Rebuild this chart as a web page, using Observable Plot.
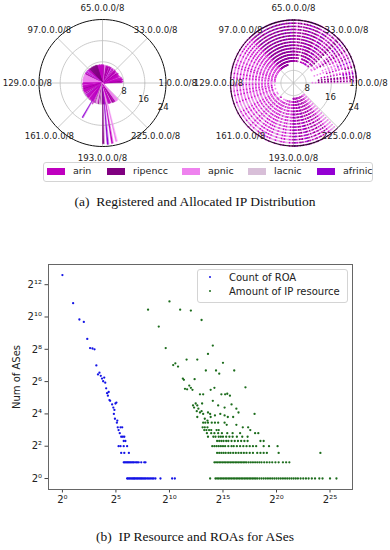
<!DOCTYPE html>
<html><head><meta charset="utf-8">
<script src="https://cdn.jsdelivr.net/npm/d3@7"></script>
<script src="https://cdn.jsdelivr.net/npm/@observablehq/plot@0.6"></script>
<style>
body{margin:0;background:#fff;}
#page{position:relative;width:390px;height:550px;overflow:hidden;font-family:"DejaVu Sans",sans-serif;background:#fff;}
#page svg{overflow:visible;}
.box{position:absolute;}
.cap{position:absolute;left:0;width:390px;text-align:center;font-family:"Liberation Serif",serif;font-size:13.5px;color:#111;white-space:pre;}
.lg{position:absolute;border:1px solid #d4d4d4;border-radius:3px;background:rgba(255,255,255,0.85);}
.lgt{position:absolute;font-size:9.5px;color:#222;line-height:10px;}
</style></head><body><div id="page"></div>
<script>
// ---------------- data: RIR registry ----------------
const rirNames = ["arin", "ripencc", "apnic", "lacnic", "afrinic"];
const rirColors = ["#bf00bf", "#800080", "#ee82ee", "#d8bfd8", "#9400d3"];
const rirCodeNames = {a: "arin", r: "ripencc", p: "apnic", l: "lacnic", f: "afrinic"};
// RIR registered for each /8 block (index = first octet); "." = none
const registeredRir =
  ".praaraa" + "aa.aaapa" + "aaaaaaaa" + "arapaaar" +
  "aaaaprap" + "afppaara" + "apararaa" + "arppppra" +
  "aaaaaaaa" + "aaaaarrr" + "rrrrrrrr" + "rrrrrrrr" +
  "aaaaapfp" + "afpaarpp" + "pppppppp" + "ppppppp." +
  "aaaaapaa" + "aaaaaraa" + "aaaaaapr" + "apfaaaaa" +
  "aaapaaaa" + "aaafaaap" + "alrlplpp" + "arllrlll" +
  "arrrffaa" + "llppaaaa" + "aapprraa" + "arpppppp" +
  "........" + "........" + "........" + "........";
// RIR of most allocations seen inside each /8 block
const allocatedRir =
  ".prparpf" + "ap.rappf" + "pprpappr" + "aprpfapr" +
  "raparpap" + "rafrpaar" + "rarafrar" + "arprarpa" +
  "rrafrrar" + "frrarrfr" + "rarrfrar" + "rarfrraa" +
  "apapapap" + "apappapp" + "pappapap" + "ppappap." +
  "ppapppap" + "pappppap" + "pplppapp" + "apppalpp" +
  "appaplpa" + "pappapap" + "aplpaplp" + "apaplpap" +
  "arfaprar" + "pafraprp" + "arparpap" + "rpappplp" +
  "........" + "........" + "........" + "........";
// left panel: wedge radius per /8 block
const registeredR = [
  0,7.6,7.2,7.8,7.5,7.0,7.4,7.7,7.6,7.3,0,7.5,7.1,6.4,7.2,6.9,
  6.2,6.8,6.6,5.9,6.7,6.5,6.9,6.3,6.8,6.1,6.6,6.4,5.8,6.5,6.7,6.2,
  6.6,6.4,6.8,6.0,6.5,6.3,6.7,6.2,6.6,6.4,6.1,6.5,6.8,6.3,6.6,6.5,
  6.7,6.3,6.6,6.4,6.8,6.2,6.5,6.7,6.4,6.6,6.9,6.5,6.8,6.7,6.6,7.0,
  6.8,6.6,7.0,6.7,6.9,6.5,6.8,7.1,6.7,6.9,6.6,7.0,6.8,7.1,6.9,7.2,
  7.0,6.8,7.1,6.9,7.2,7.0,6.8,7.1,7.3,6.9,7.0,7.2,7.1,6.9,7.3,7.0,
  7.2,7.0,7.3,7.1,7.4,7.2,7.5,7.3,7.1,7.4,7.2,7.5,7.3,7.1,7.4,7.6,
  7.3,7.5,7.2,7.4,7.6,7.3,7.5,7.4,7.2,7.6,7.4,7.3,7.5,7.2,7.4,0,
  7.3,7.5,7.2,7.6,7.4,7.7,7.3,7.5,7.6,7.2,7.4,7.7,7.5,7.3,7.6,7.8,
  7.4,7.6,7.7,7.3,7.5,7.8,7.6,7.4,7.7,7.5,7.8,7.6,7.3,7.7,7.5,7.8,
  7.6,7.4,7.8,7.7,7.5,7.9,7.6,7.8,7.4,7.7,7.9,15.1,7.6,7.8,8.8,7.7,
  7.9,7.5,7.8,7.6,8.0,7.7,7.9,7.5,7.8,8.0,7.6,7.9,7.7,8.0,7.8,7.6,
  7.9,23.0,7.7,8.0,23.3,7.8,7.6,23.1,7.9,8.1,22.7,7.8,8.0,7.7,8.2,7.9,
  8.1,7.8,8.3,8.0,8.2,8.4,8.1,8.3,8.5,8.2,8.6,8.4,8.7,8.5,8.3,8.6,
  0,0,0,0,0,0,0,0,0,0,0,0,0,0,0,0,
  0,0,0,0,0,0,0,0,0,0,0,0,0,0,0,0
];
// right panel: shortest allocated prefix length per /8 block (dots out to /24)
const allocatedMinLen = [
  0,10,12,19,15,12,21,20,13,17,0,21,15,18,11,19,
  16,14,20,18,17,15,19,14,12,11,16,11,20,18,21,12,
  17,12,13,11,11,11,13,11,12,11,11,12,15,11,11,12,
  14,11,12,11,16,13,15,17,14,11,11,11,11,11,11,11,
  11,11,11,11,11,11,11,11,11,11,11,11,11,10,10,10,
  10,10,10,10,10,10,10,10,10,10,10,10,10,10,10,10,
  10,10,10,10,10,10,10,10,10,10,10,10,10,10,10,10,
  10,10,10,10,10,10,10,10,10,10,10,10,10,10,10,0,
  11,11,12,11,12,10,11,12,11,11,12,11,11,10,11,12,
  11,12,11,11,12,11,10,11,11,10,11,11,12,11,11,11,
  11,11,11,10,11,11,11,12,11,11,11,10,11,11,11,10,
  11,10,10,10,10,10,10,10,10,10,10,10,10,10,10,10,
  9,9,9,9,9,9,9,9,9,9,9,9,9,9,9,9,
  9,9,9,9,9,9,10,10,9,9,9,9,9,9,9,9,
  0,0,0,0,0,0,0,0,0,0,0,0,0,0,0,0,
  0,0,0,0,0,0,0,0,0,0,0,0,0,0,0,0
];
const thetaOctets = [1, 33, 65, 97, 129, 161, 193, 225];
const thetaLabels = ["1.0.0.0/8", "33.0.0.0/8", "65.0.0.0/8", "97.0.0.0/8", "129.0.0.0/8", "161.0.0.0/8", "193.0.0.0/8", "225.0.0.0/8"];
const ringTicks = [8, 16, 24];

// ---------------- data: scatter ----------------
const roaCount = [1,2,3,4,5,6,7,8,9,10,11,12,13,14,15,16,17,18,19,20,21,22,25,27,28,29,31,33,30,34,35,36,38,43,48,41,45,50,55,53,59,
  38,43,53,66, 45,55,74,
  53,56,60,64,68,72,77,82,88,95,100,110,120,128,140,165,200,217,
  66,70,75,80,86,92,98,104,110,118,126,134,144,154,165,176,190,205,220,240,260,285,310,340,370,413,572,1218,1450];
const roaAses = [6200,1850,920,830,400,270,265,256,128,87,94,82,73,65,76,61,48,39,35,41,29,28,24,21,16,19,25,26,13,11,12,9,8,9,9,7,6,6,6,5,5,
  4,4,4,4, 3,3,3,
  2,2,2,2,2,2,2,2,2,2,2,2,2,2,2,2,2,2,
  1,1,1,1,1,1,1,1,1,1,1,1,1,1,1,1,1,1,1,1,1,1,1,1,1,1,1,1,1];
const ipLog2Amount = [8.0,9.0,10.0,11.0,12.0,13.0,9.65,14.05,13.6,11.6,12.6,10.35,10.55,10.8,15.0,13.4,14.35,14.65,16.05,11.25,11.35,12.35,11.45,11.65,11.85,12.0,12.15,13.85,14.2,12.85,13.15,14.85,15.2,15.4,15.65,17.1,
  12.45,12.6,13.05,14.05,12.3,12.2,12.7,12.55,12.85,13.0,13.6,13.8,14.55,15.15,15.8,16.25,16.45,17.95,12.6,13.15,13.3,13.55,13.85,14.25,14.75,15.15,15.45,15.95,
  13.15,13.35,13.6,13.95,14.25,14.55,15.15,15.35,16.25,16.85,17.35,17.55,13.1,13.3,13.55,13.25,13.45,13.7,13.9,14.4,14.6,
  13.5,13.9,14.2,14.55,14.9,15.4,15.9,16.6,18.0,18.3,
  13.6,14.1,14.3,14.6,14.8,15.0,15.3,15.6,15.9,16.3,16.8,17.3,
  14.45,14.65,14.85,15.05,15.3,15.5,15.8,16.1,16.4,16.7,17.0,17.3,18.5,18.8,
  14.0,14.2,14.4,14.6,14.8,15.0,15.2,15.5,15.8,16.0,16.3,16.6,16.9,17.2,17.5,17.8,18.1,18.8,19.3,20.1,
  14.45,14.65,14.85,15.05,15.25,15.5,15.7,15.95,16.2,16.45,16.7,16.95,17.2,17.5,17.8,18.2,18.5,18.8,19.1,20.2,24.1,
  14.2,14.35,14.5,14.65,14.8,14.95,15.1,15.25,15.4,15.55,15.7,15.85,16.0,16.15,16.3,16.45,16.6,16.75,16.9,17.05,17.2,17.4,17.6,17.8,18.0,18.2,18.4,18.6,18.85,19.1,19.35,19.6,19.9,20.2,20.6,20.9,21.2,
  13.8,14.3,14.45,14.6,14.75,14.9,15.05,15.2,15.35,15.5,15.65,15.8,15.95,16.1,16.25,16.4,16.55,16.7,16.85,17.0,17.15,17.3,17.45,17.6,17.75,17.9,18.05,18.2,18.4,18.6,18.8,19.0,19.2,19.4,19.6,19.8,20.0,20.2,20.4,20.6,20.8,21.0,21.2,21.4,21.6,21.8,22.0,22.25,22.5,22.75,23.0,23.3,23.6,24.0,24.3,25.0,25.6];
const ipAses = [1400,680,2000,1400,1350,900,270,300,210,165,165,130,140,122,143,103,103,90,103,73,69,71,47,46,54,49,45,45,49,37,37,37,37,38,35,50,
  25,23,25,28,21,23,20,18,17,18,17,16,23,21,24,20,17,16,14,16,13,12,14,15,16,15,14,14,
  11,11,11,11,11,11,11,10,10,9,9,8,9,9,9,8,8,8,8,8,8,
  7,7,7,7,7,7,7,7,7,7,
  6,6,6,6,6,6,6,6,6,6,6,6,
  5,5,5,5,5,5,5,5,5,5,5,5,5,5,
  4,4,4,4,4,4,4,4,4,4,4,4,4,4,4,4,4,4,4,4,
  3,3,3,3,3,3,3,3,3,3,3,3,3,3,3,3,3,3,3,3,3,
  2,2,2,2,2,2,2,2,2,2,2,2,2,2,2,2,2,2,2,2,2,2,2,2,2,2,2,2,2,2,2,2,2,2,2,2,2,
  1,1,1,1,1,1,1,1,1,1,1,1,1,1,1,1,1,1,1,1,1,1,1,1,1,1,1,1,1,1,1,1,1,1,1,1,1,1,1,1,1,1,1,1,1,1,1,1,1,1,1,1,1,1,1,1,1];
const xTickExps = [0, 5, 10, 15, 20, 25];
const yTickExps = [0, 2, 4, 6, 8, 10, 12];
const seriesNames = ["Count of ROA", "Amount of IP resource"];
const seriesColors = ["#1414e6", "#1c6c1c"];

// ---------------- helpers ----------------
const page = document.getElementById("page");
const ang = o => (o - 1) * 2 * Math.PI / 256;
const sup = "⁰¹²³⁴⁵⁶⁷⁸⁹";
const pow2 = v => "2" + String(Math.round(Math.log2(v))).split("").map(c => sup[+c]).join("");
const circlePts = (r, r0) => d3.range(0, 361, 3).map(a => ({x: (r - r0) * Math.cos(a * Math.PI / 180), y: (r - r0) * Math.sin(a * Math.PI / 180)}));
const colorScale = {domain: rirNames, range: rirColors};
const FONT = "DejaVu Sans";

function polarFrame(r0, rMax, labelR) {
  const rings = ringTicks.filter(r => r < rMax).flatMap(r => circlePts(r, r0).map(p => ({...p, ring: r})));
  const spokes = thetaOctets.map(o => ({o}));
  return {grid: [
      Plot.line(rings, {x: "x", y: "y", z: "ring", stroke: "#bdbdbd", strokeWidth: 0.8}),
      Plot.link(spokes, {x1: 0, y1: 0, x2: d => (rMax - r0) * Math.cos(ang(d.o)), y2: d => (rMax - r0) * Math.sin(ang(d.o)), stroke: "#bdbdbd", strokeWidth: 0.8})
    ],
    top: [
      Plot.line(circlePts(rMax, r0), {x: "x", y: "y", stroke: "#111", strokeWidth: 1}),
      Plot.text(thetaOctets.map((o, i) => ({o, t: thetaLabels[i]})), {x: d => labelR * Math.cos(ang(d.o)), y: d => labelR * Math.sin(ang(d.o)), text: "t", fontSize: 8.6, fontFamily: FONT, fill: "#222"}),
      Plot.text(ringTicks, {x: r => (r - r0) * Math.cos(-Math.PI / 8), y: r => (r - r0) * Math.sin(-Math.PI / 8), text: r => String(r), dx: 2, fontSize: 8.6, fontFamily: FONT, fill: "#222"})
    ]};
}

// ---------------- left polar: registered ----------------
{
  const r0 = 0, rMax = 24, R = 63.5, cx = 102, cy = 82.5, W = 195, H = 165;
  const verts = [];
  registeredR.forEach((r, b) => {
    const rir = rirCodeNames[registeredRir[b]];
    if (r > 0 && rir) {
      verts.push({b, rir, x: 0, y: 0});
      verts.push({b, rir, x: r * Math.cos(ang(b)), y: r * Math.sin(ang(b))});
      verts.push({b, rir, x: r * Math.cos(ang(b + 1)), y: r * Math.sin(ang(b + 1))});
    }
  });
  const f = polarFrame(r0, rMax, 28.4);
  const p = Plot.plot({
    width: W, height: H,
    marginLeft: cx - R, marginRight: W - cx - R, marginTop: cy - R, marginBottom: H - cy - R,
    x: {domain: [-rMax, rMax], axis: null}, y: {domain: [-rMax, rMax], axis: null},
    color: colorScale,
    style: {background: "transparent", overflow: "visible"},
    marks: [
      ...f.grid,
      Plot.line(verts, {x: "x", y: "y", z: "b", fill: "rir", stroke: "rir", strokeWidth: 0.4, curve: "linear-closed"}),
      ...f.top
    ]
  });
  const d = document.createElement("div"); d.className = "box"; d.style.left = "0px"; d.style.top = "0px";
  d.appendChild(p); page.appendChild(d);
}

// ---------------- right polar: allocated ----------------
{
  const r0 = 4, rMax = 24, R = 63, cx = 98, cy = 82.5, W = 195, H = 165;
  const dots = [];
  allocatedMinLen.forEach((m, b) => {
    const rir = rirCodeNames[allocatedRir[b]];
    if (m > 0 && rir) {
      const a = (ang(b) + ang(b + 1)) / 2;
      for (let pl = m; pl <= 24; pl++) dots.push({rir, x: (pl - r0) * Math.cos(a), y: (pl - r0) * Math.sin(a)});
    }
  });
  const f = polarFrame(r0, rMax, 23.8);
  const p = Plot.plot({
    width: W, height: H,
    marginLeft: cx - R, marginRight: W - cx - R, marginTop: cy - R, marginBottom: H - cy - R,
    x: {domain: [-(rMax - r0), rMax - r0], axis: null}, y: {domain: [-(rMax - r0), rMax - r0], axis: null},
    color: colorScale,
    style: {background: "transparent", overflow: "visible"},
    marks: [
      ...f.grid,
      Plot.dot(dots, {x: "x", y: "y", r: 0.9, fill: "rir", stroke: null}),
      ...f.top
    ]
  });
  const d = document.createElement("div"); d.className = "box"; d.style.left = "195px"; d.style.top = "0px";
  d.appendChild(p); page.appendChild(d);
}

// ---------------- top legend ----------------
{
  const box = document.createElement("div"); box.className = "lg";
  Object.assign(box.style, {left: "43px", top: "162px", width: "328px", height: "18px"});
  page.appendChild(box);
  const swX = [47, 107, 182, 248, 317];
  rirNames.forEach((n, i) => {
    const s = document.createElement("div");
    Object.assign(s.style, {position: "absolute", left: swX[i] + "px", top: "168px", width: "18px", height: "7px", background: rirColors[i]});
    page.appendChild(s);
    const t = document.createElement("div"); t.className = "lgt"; t.textContent = n;
    Object.assign(t.style, {left: (swX[i] + 26) + "px", top: "166px"});
    page.appendChild(t);
  });
}

// captions
{
  const a = document.createElement("div"); a.className = "cap"; a.style.top = "194px";
  a.textContent = "(a)  Registered and Allocated IP Distribution"; page.appendChild(a);
  const b = document.createElement("div"); b.className = "cap"; b.style.top = "529px";
  b.textContent = "(b)  IP Resource and ROAs for ASes"; page.appendChild(b);
}

// ---------------- scatter ----------------
{
  const roa = roaCount.map((c, i) => ({x: c, y: roaAses[i]}));
  const ip = ipLog2Amount.map((e, i) => ({x: 2 ** e, y: ipAses[i]}));
  const p = Plot.plot({
    width: 390, height: 262,
    marginLeft: 48, marginRight: 38, marginTop: 9, marginBottom: 28,
    style: {fontFamily: FONT, fontSize: "10px", color: "#333", background: "transparent", overflow: "visible"},
    x: {type: "log", base: 2, domain: [2 ** -1.3, 2 ** 27.1]},
    y: {type: "log", base: 2, domain: [2 ** -0.68, 2 ** 13.25]},
    marks: [
      Plot.axisX({ticks: xTickExps.map(e => 2 ** e), tickFormat: pow2, tickSize: 3.5, tickPadding: 3, label: null, stroke: "#444", fill: "#222", fontSize: 10}),
      Plot.axisY({ticks: yTickExps.map(e => 2 ** e), tickFormat: pow2, tickSize: 3.5, tickPadding: 3, label: "Num of ASes", labelAnchor: "center", labelArrow: "none", labelOffset: 36, stroke: "#444", fill: "#222", fontSize: 10}),
      Plot.dot(roa, {x: "x", y: "y", r: 1.15, fill: seriesColors[0], stroke: null}),
      Plot.dot(ip, {x: "x", y: "y", r: 1.15, fill: seriesColors[1], stroke: null}),
      Plot.frame({stroke: "#666", strokeWidth: 1})
    ]
  });
  const d = document.createElement("div"); d.className = "box"; d.style.left = "0px"; d.style.top = "255px";
  d.appendChild(p); page.appendChild(d);

  const box = document.createElement("div"); box.className = "lg";
  Object.assign(box.style, {left: "197px", top: "269px", width: "149px", height: "32px"});
  page.appendChild(box);
  seriesNames.forEach((n, i) => {
    const dot = document.createElement("div");
    Object.assign(dot.style, {position: "absolute", left: "209px", top: (276 + i * 14) + "px", width: "2.4px", height: "2.4px", borderRadius: "50%", background: seriesColors[i]});
    page.appendChild(dot);
    const t = document.createElement("div"); t.className = "lgt"; t.textContent = n;
    Object.assign(t.style, {left: "229px", top: (272 + i * 14) + "px", fontSize: "10px", lineHeight: "11px"});
    page.appendChild(t);
  });
}
</script></body></html>
